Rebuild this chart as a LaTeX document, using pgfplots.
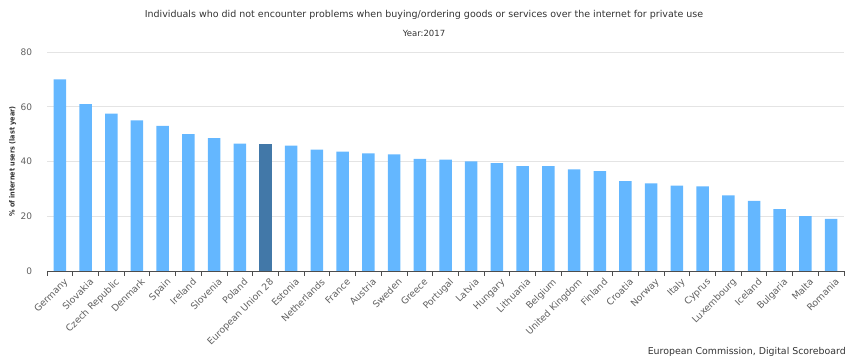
\documentclass[border=0pt]{standalone}
\usepackage{pgfplots}
\pgfplotsset{compat=1.18}
\usepackage{fontspec}
\setmainfont{DejaVu Sans}
\newfontfamily\condfont{DejaVu Sans Condensed}
\definecolor{barblue}{RGB}{100,183,255}
\definecolor{eublue}{RGB}{66,120,168}
\definecolor{gridc}{RGB}{228,228,228}
\definecolor{txt}{RGB}{51,51,51}
\definecolor{lbl}{RGB}{96,96,96}
\begin{document}
\begin{tikzpicture}
\path[use as bounding box] (0,0) rectangle (848pt,358pt);
\begin{axis}[
  at={(47pt,87pt)}, anchor=south west,
  scale only axis, width=797pt, height=219pt,
  xmin=-0.5, xmax=30.5, ymin=0, ymax=80,
  ytick={0,20,40,60,80},
  /pgf/number format/assume math mode=true,
  ymajorgrids, grid style={gridc, line width=0.8pt},
  axis lines*=left,
  y axis line style={draw=none},
  x axis line style={draw=lbl!80!black, line width=0.8pt},
  ytick style={draw=none},
  xtick={0,...,30},
  major x tick style={draw=none},
  minor xtick={-0.5,0.5,...,30.5},
  minor x tick style={draw=lbl!80!black, line width=0.8pt},
  minor tick length=5pt,
  tick align=outside,
  xticklabels={Germany,Slovakia,Czech Republic,Denmark,Spain,Ireland,Slovenia,Poland,European Union 28,Estonia,Netherlands,France,Austria,Sweden,Greece,Portugal,Latvia,Hungary,Lithuania,Belgium,United Kingdom,Finland,Croatia,Norway,Italy,Cyprus,Luxembourg,Iceland,Bulgaria,Malta,Romania},
  xticklabel style={rotate=45, anchor=north east, font=\fontsize{9.3}{10}\selectfont, text=lbl, inner sep=1pt, yshift=-3pt, xshift=2pt},
  yticklabel style={font=\fontsize{9}{10}\selectfont, text=lbl, xshift=-7pt},
  ylabel={\condfont\bfseries \% of internet users (last year)},
  ylabel style={at={(axis description cs:-0.043,0.5)}, rotate=0, anchor=center, font=\fontsize{7.2}{8}\selectfont, text=txt},
  ybar, bar width=12.5pt,
]
\addplot[fill=barblue, draw=none, bar shift=0pt] coordinates {
(0,70) (1,61) (2,57.5) (3,55) (4,53) (5,50) (6,48.5) (7,46.5)
(9,45.8) (10,44.3) (11,43.6) (12,43) (13,42.6) (14,41) (15,40.7)
(16,40) (17,39.4) (18,38.3) (19,38.3) (20,37.1) (21,36.5) (22,32.8)
(23,32) (24,31.2) (25,30.9) (26,27.6) (27,25.6) (28,22.6) (29,20) (30,19)
};
\addplot[fill=eublue, draw=none, bar shift=0pt] coordinates {(8,46.3)};
\end{axis}
\node[font=\fontsize{9.5}{10}\selectfont, text=txt] at (424pt,343pt) {Individuals who did not encounter problems when buying/ordering goods or services over the internet for private use};
\node[font=\fontsize{8.5}{10}\selectfont, text=txt] at (424pt,325pt) {Year:2017};
\node[font=\fontsize{9.4}{10}\selectfont, text=txt, anchor=east, inner sep=0pt] at (846pt,6pt) {European Commission, Digital Scoreboard};
\end{tikzpicture}
\end{document}
